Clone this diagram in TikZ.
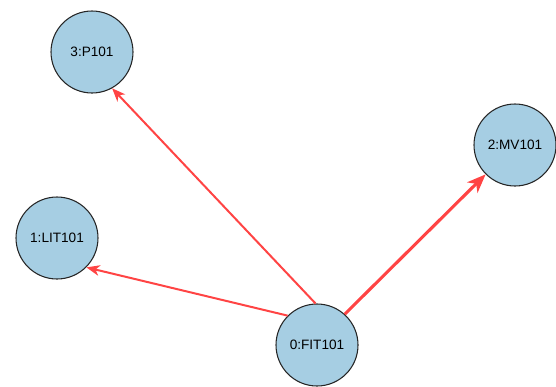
\documentclass[tikz,border=0pt]{standalone}
\usepackage{fontspec}
\setmainfont{Liberation Sans}
\usetikzlibrary{arrows.meta}
\definecolor{nodeblue}{HTML}{A6CEE3}
\definecolor{edgered}{HTML}{FF4444}

\begin{document}
\begin{tikzpicture}[x=0.75pt,y=-0.75pt,
  vtx/.style={draw=black!85,line width=.8pt,circle,fill=nodeblue,minimum size=61.5pt,inner sep=0pt,font=\fontsize{10.2}{12}\selectfont},
  link/.style={edgered,line width=1.5pt,-{Stealth[length=10pt,width=8pt,inset=3pt]}},
  biglink/.style={edgered,line width=2.3pt,-{Stealth[length=14pt,width=11pt,inset=4pt]}}]
  \useasboundingbox (0,0) rectangle (556,386);
  \node[vtx] (n3) at (92,52) {3:P101};
  \node[vtx] (n2) at (515,145) {2:MV101};
  \node[vtx] (n1) at (57,238) {1:LIT101};
  \node[vtx] (n0) at (317,345) {0:FIT101};
  % all edges leave node 0
  \draw[link] (n0.92) -- (n3.-61);
  \draw[link] (n0.135) -- (n1.-45);
  \draw[biglink] (n0.48) -- (n2.225);
\end{tikzpicture}
\end{document}
